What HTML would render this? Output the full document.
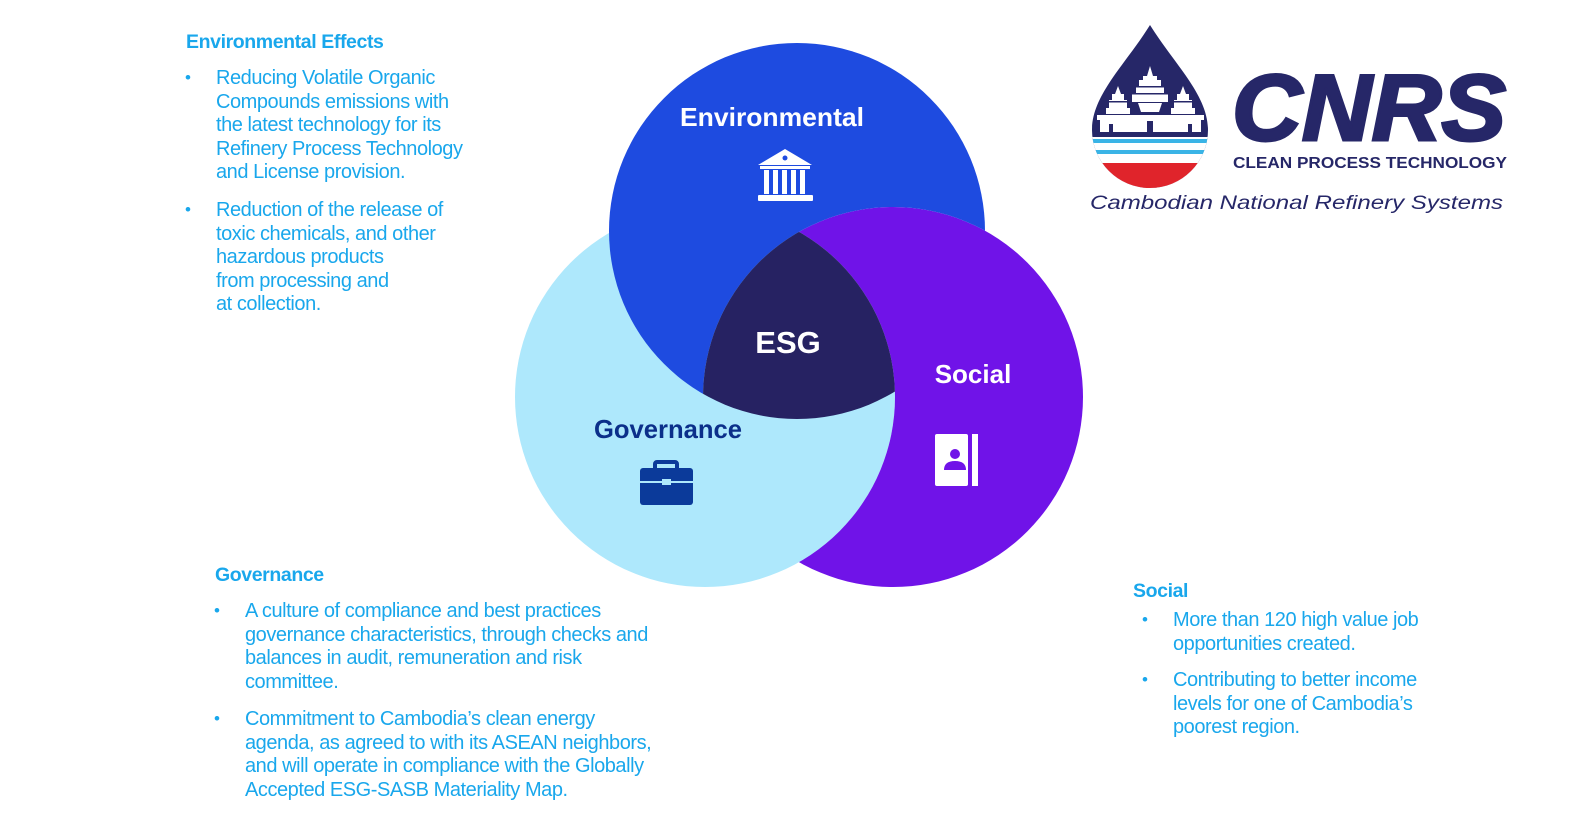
<!DOCTYPE html>
<html><head><meta charset="utf-8"><style>
body{margin:0;width:1573px;height:835px;background:#fff;position:relative;overflow:hidden;font-family:"Liberation Sans",sans-serif;}
.t{position:absolute;color:#19a7ec;font-size:20px;line-height:23.6px;letter-spacing:-0.45px;}
.h{position:absolute;color:#19a7ec;font-size:19.5px;font-weight:bold;letter-spacing:-0.4px;}
.b{position:absolute;color:#19a7ec;font-size:17px;}
</style></head><body>
<div class="h" style="left:186px;top:31px">Environmental Effects</div>
<div class="b" style="left:185px;top:68px">•</div>
<div class="t" style="left:216px;top:67px">Reducing Volatile Organic<br>Compounds emissions with<br>the latest technology for its<br>Refinery Process Technology<br>and License provision.</div>
<div class="b" style="left:185px;top:200px">•</div>
<div class="t" style="left:216px;top:199px">Reduction of the release of<br>toxic chemicals, and other<br>hazardous products<br>from processing and<br>at collection.</div>

<div class="h" style="left:215px;top:564px">Governance</div>
<div class="b" style="left:214px;top:601px">•</div>
<div class="t" style="left:245px;top:600px">A culture of compliance and best practices<br>governance characteristics, through checks and<br>balances in audit, remuneration and risk<br>committee.</div>
<div class="b" style="left:214px;top:709px">•</div>
<div class="t" style="left:245px;top:708px">Commitment to Cambodia’s clean energy<br>agenda, as agreed to with its ASEAN neighbors,<br>and will operate in compliance with the Globally<br>Accepted ESG-SASB Materiality Map.</div>

<div class="h" style="left:1133px;top:580px">Social</div>
<div class="b" style="left:1142px;top:610px">•</div>
<div class="t" style="left:1173px;top:609px">More than 120 high value job<br>opportunities created.</div>
<div class="b" style="left:1142px;top:670px">•</div>
<div class="t" style="left:1173px;top:669px">Contributing to better income<br>levels for one of Cambodia’s<br>poorest region.</div>

<svg width="1573" height="835" style="position:absolute;left:0;top:0">
<defs>
<clipPath id="cE"><circle cx="797" cy="231" r="188"/></clipPath>
<clipPath id="cS"><circle cx="893" cy="397" r="190"/></clipPath>
<mask id="notG"><rect width="1573" height="835" fill="#fff"/><circle cx="705" cy="397" r="190" fill="#000"/></mask>
<mask id="notS"><rect width="1573" height="835" fill="#fff"/><circle cx="893" cy="397" r="190" fill="#000"/></mask>
<clipPath id="logo"><path d="M1150 25 C1175 65 1208 95 1208 130 A58 58 0 0 1 1092 130 C1092 95 1125 65 1150 25Z"/></clipPath>
</defs>
<circle cx="705" cy="397" r="190" fill="#aee8fc"/>
<circle cx="893" cy="397" r="190" fill="#7013e8" mask="url(#notG)"/>
<circle cx="797" cy="231" r="188" fill="#1e4be0" mask="url(#notS)"/>
<g clip-path="url(#cE)"><g clip-path="url(#cS)"><circle cx="705" cy="397" r="190" fill="#262262"/></g></g>

<g font-family="Liberation Sans, sans-serif" font-weight="bold" text-anchor="middle">
<text x="772" y="126" font-size="26" fill="#fff" textLength="184" lengthAdjust="spacingAndGlyphs">Environmental</text>
<text x="788" y="353" font-size="31" fill="#fff">ESG</text>
<text x="973" y="383" font-size="26" fill="#fff">Social</text>
<text x="668" y="438" font-size="26" fill="#0b2f8a" textLength="148" lengthAdjust="spacingAndGlyphs">Governance</text>
</g>
<g fill="#fff">
<path d="M785 149 L812 165 L758 165Z"/>
<rect x="760" y="166" width="50" height="3"/>
<rect x="764" y="170" width="5" height="24"/><rect x="773" y="170" width="5" height="24"/><rect x="782" y="170" width="5" height="24"/><rect x="791" y="170" width="5" height="24"/><rect x="800" y="170" width="5" height="24"/>
<rect x="758" y="195" width="55" height="6" rx="1"/>
</g>
<circle cx="785" cy="158" r="2.5" fill="#1e4be0"/>
<g fill="#0b3a9a">
<rect x="655" y="462" width="22" height="10" rx="2" fill="none" stroke="#0b3a9a" stroke-width="4"/>
<rect x="640" y="468" width="53" height="37" rx="3"/>
</g>
<rect x="640" y="481" width="53" height="2" fill="#aee8fc"/>
<rect x="662" y="479" width="9" height="6" fill="#aee8fc"/>
<rect x="935" y="434" width="33" height="52" rx="2" fill="#fff"/>
<rect x="972" y="434" width="6" height="52" fill="#fff"/>
<circle cx="955" cy="454" r="5" fill="#7013e8"/>
<path d="M944 470 Q944 461 955 461 Q966 461 966 470Z" fill="#7013e8"/>

<path d="M1150 25 C1175 65 1208 95 1208 130 A58 58 0 0 1 1092 130 C1092 95 1125 65 1150 25Z" fill="#262768"/>
<g clip-path="url(#logo)">
<rect x="1090" y="137" width="125" height="60" fill="#fff"/>
<rect x="1090" y="139" width="125" height="4" fill="#3ab4e6"/>
<rect x="1090" y="150" width="125" height="4" fill="#3ab4e6"/>
<rect x="1090" y="163" width="125" height="30" fill="#e0242b"/>
</g>
<g fill="#fff">
<path d="M1150 66 L1153 76 L1157 76 L1157 80 L1161 80 L1161 86 L1164 86 L1164 93 L1168 93 L1168 102 L1132 102 L1132 93 L1136 93 L1136 86 L1139 86 L1139 80 L1143 80 L1143 76 L1147 76Z"/>
<path d="M1138 103 h24 l-3 9 h-18z"/>
<path d="M1118 86 L1121 94 L1124 94 L1124 100 L1127 100 L1127 108 L1130 108 L1130 114 L1106 114 L1106 108 L1109 108 L1109 100 L1112 100 L1112 94 L1115 94Z"/>
<path d="M1183 86 L1186 94 L1189 94 L1189 100 L1192 100 L1192 108 L1195 108 L1195 114 L1171 114 L1171 108 L1174 108 L1174 100 L1177 100 L1177 94 L1180 94Z"/>
<rect x="1097" y="115" width="107" height="5"/>
<rect x="1100" y="120" width="101" height="12"/>
</g>
<g fill="#262768">
<rect x="1109" y="124" width="4" height="8"/><rect x="1147" y="121" width="6" height="11"/><rect x="1188" y="124" width="4" height="8"/>
<rect x="1132" y="86" width="36" height="1.5"/><rect x="1132" y="93" width="36" height="1.5"/><rect x="1106" y="101" width="24" height="1.5"/><rect x="1171" y="101" width="24" height="1.5"/>
</g>
<text x="1232" y="140" font-family="Liberation Sans, sans-serif" font-weight="bold" font-style="italic" font-size="94" fill="#262768" stroke="#262768" stroke-width="3" textLength="274" lengthAdjust="spacingAndGlyphs">CNRS</text>
<text x="1233" y="168" font-family="Liberation Sans, sans-serif" font-weight="bold" font-size="16" fill="#262768" textLength="274" lengthAdjust="spacingAndGlyphs">CLEAN PROCESS TECHNOLOGY</text>
<text x="1090" y="209" font-family="Liberation Sans, sans-serif" font-style="italic" font-size="19" fill="#262768" textLength="413" lengthAdjust="spacingAndGlyphs">Cambodian National Refinery Systems</text>
</svg>
</body></html>
